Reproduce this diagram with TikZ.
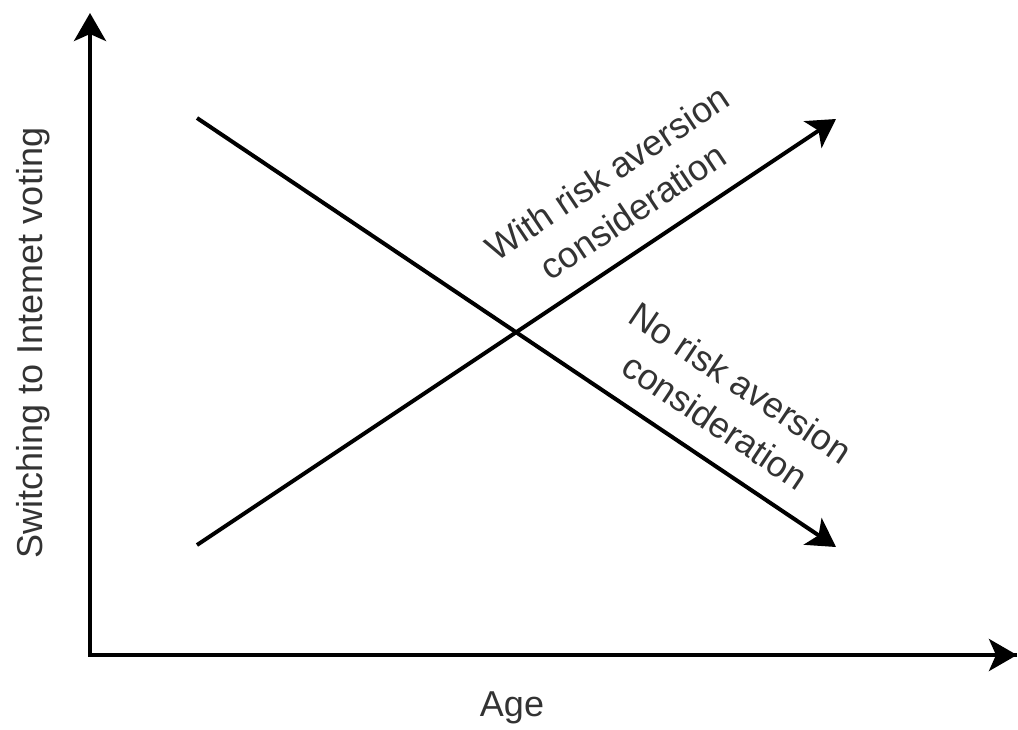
\documentclass[tikz,border=0pt]{standalone}
\usepackage{fontspec}
\setmainfont{Liberation Sans}
\usetikzlibrary{arrows.meta}
\definecolor{labelgray}{HTML}{333333}
\tikzset{
  axisline/.style={line width=2pt, -{Stealth[length=14pt, width=16pt, inset=3.5pt]}},
  lbl/.style={text=labelgray, font=\fontsize{18}{23}\selectfont, align=center, inner sep=0pt}
}
\begin{document}
\begin{tikzpicture}[x=0.5pt, y=-0.5pt]
\useasboundingbox (0,0) rectangle (1018,729);
\coordinate (origin) at (90,655);
\coordinate (ytip) at (90,13);
\coordinate (xtip) at (1017,655);
\coordinate (aStart) at (197,118);
\coordinate (aEnd) at (836,547);
\coordinate (bStart) at (197,545);
\coordinate (bEnd) at (836,119);
\draw[axisline, line join=miter] (xtip) -- (origin) -- (ytip);
\draw[axisline, -{Stealth[length=14pt, width=16pt, inset=3.5pt]}] (origin) -- (xtip);
\draw[axisline] (aStart) -- (aEnd);
\draw[axisline] (bStart) -- (bEnd);
\node[lbl] (age) at (512,708) {Age};
\node[lbl, rotate=90] (ylab) at (33,343) {Switching to Intemet voting};
\node[lbl, rotate=33.75] (withlab) at (620,192) {With risk aversion\\consideration};
\node[lbl, rotate=-33.75] (nolab) at (728,402) {No risk aversion\\consideration};
\end{tikzpicture}
\end{document}
